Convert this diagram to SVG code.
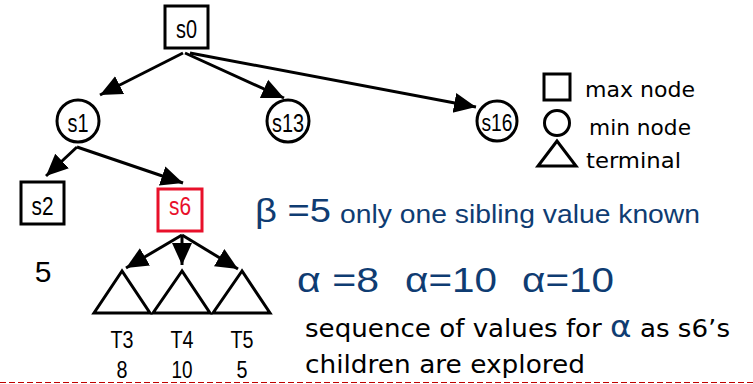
<svg xmlns="http://www.w3.org/2000/svg" width="753" height="384" viewBox="0 0 753 384">
<style>
.box{fill:#fff;stroke:#000;stroke-width:3}
.circ{fill:#fff;stroke:#000;stroke-width:3}
.tri{fill:#fff;stroke:#000;stroke-width:3;stroke-linejoin:miter}
.lbl{font-family:"Liberation Sans",Arial,sans-serif;font-size:25px;fill:#000;text-anchor:middle}
.edge{stroke:#000;stroke-width:3;fill:none;marker-end:url(#ah)}
.leg{font-family:"DejaVu Sans",sans-serif;font-size:22px;fill:#000}
.blue{fill:#0f3c72}
.cm{font-family:"DejaVu Sans",sans-serif;font-size:24px;fill:#000}
.al{font-family:"Liberation Sans",Arial,sans-serif;font-size:35px;fill:#0f3c72}
</style>
<defs>
<marker id="ah" markerUnits="userSpaceOnUse" markerWidth="22" markerHeight="22" viewBox="0 0 22 22" refX="22" refY="11" orient="auto">
<path d="M0,1 L22,11 L0,21 Z" fill="#000"/>
</marker>
</defs>
<rect width="753" height="384" fill="#fff"/>
<g id="connectors">
<line class="edge" x1="183" y1="53" x2="100" y2="95"/>
<line class="edge" x1="185" y1="53" x2="284" y2="98"/>
<line class="edge" x1="190" y1="53" x2="476" y2="107"/>
<line class="edge" x1="77" y1="147" x2="46" y2="176"/>
<line class="edge" x1="77" y1="147" x2="183" y2="183"/>
<line class="edge" x1="182" y1="235" x2="126" y2="268"/>
<line class="edge" x1="182" y1="235" x2="182" y2="265"/>
<line class="edge" x1="182" y1="235" x2="238" y2="269"/>
</g>
<g id="s0"><rect class="box" x="165" y="6" width="43" height="42"/><text class="lbl" x="186.5" y="38" textLength="21" lengthAdjust="spacingAndGlyphs">s0</text></g>
<g id="s1"><circle class="circ" cx="78" cy="121" r="21"/><text class="lbl" x="78" y="132" textLength="21" lengthAdjust="spacingAndGlyphs">s1</text></g>
<g id="s13"><circle class="circ" cx="288" cy="121" r="21"/><text class="lbl" x="288" y="132" textLength="32" lengthAdjust="spacingAndGlyphs">s13</text></g>
<g id="s16"><circle class="circ" cx="497" cy="121" r="20"/><text class="lbl" x="497" y="131" textLength="31" lengthAdjust="spacingAndGlyphs" style="font-size:23px">s16</text></g>
<g id="s2"><rect class="box" x="21" y="182" width="43" height="42"/><text class="lbl" x="42.5" y="215" textLength="22" lengthAdjust="spacingAndGlyphs">s2</text></g>
<g id="s6"><rect x="158" y="189" width="44" height="42" fill="#fff" stroke="#e8102a" stroke-width="3"/><text class="lbl" x="180" y="215" style="fill:#e8102a" textLength="22" lengthAdjust="spacingAndGlyphs">s6</text></g>
<g id="T3"><polygon class="tri" points="122,271 94,313 150,313"/><text class="lbl" x="122" y="348" style="font-size:24px" textLength="23" lengthAdjust="spacingAndGlyphs">T3</text><text class="lbl" x="122" y="378" style="font-size:24px" textLength="11" lengthAdjust="spacingAndGlyphs">8</text></g>
<g id="T4"><polygon class="tri" points="182,271 153,313 210,313"/><text class="lbl" x="182" y="348" style="font-size:24px" textLength="23" lengthAdjust="spacingAndGlyphs">T4</text><text class="lbl" x="182" y="378" style="font-size:24px" textLength="21" lengthAdjust="spacingAndGlyphs">10</text></g>
<g id="T5"><polygon class="tri" points="242,271 213,313 270,313"/><text class="lbl" x="242" y="348" style="font-size:24px" textLength="23" lengthAdjust="spacingAndGlyphs">T5</text><text class="lbl" x="242" y="378" style="font-size:24px" textLength="11" lengthAdjust="spacingAndGlyphs">5</text></g>
<text x="43" y="282" style="font-family:'Liberation Sans',Arial,sans-serif;font-size:30px;text-anchor:middle">5</text>
<g id="legend">
<rect x="544" y="74" width="26" height="26" fill="#fff" stroke="#000" stroke-width="3"/>
<text class="leg" x="585" y="97" textLength="110" lengthAdjust="spacingAndGlyphs">max node</text>
<circle cx="557" cy="123" r="12.5" fill="#fff" stroke="#000" stroke-width="3"/>
<text class="leg" x="589" y="135" textLength="102" lengthAdjust="spacingAndGlyphs">min node</text>
<polygon points="557,141 538,166 576,166" fill="#fff" stroke="#000" stroke-width="3"/>
<text class="leg" x="586" y="168" textLength="95" lengthAdjust="spacingAndGlyphs">terminal</text>
</g>
<text x="255" y="222" class="blue" style="font-family:'Liberation Sans',Arial,sans-serif;font-size:34px" textLength="76" lengthAdjust="spacingAndGlyphs">β =5</text>
<text x="340" y="223" class="blue" style="font-family:'Liberation Sans',Arial,sans-serif;font-size:25px" textLength="360" lengthAdjust="spacingAndGlyphs">only one sibling value known</text>
<text class="al" x="297" y="292" textLength="82" lengthAdjust="spacingAndGlyphs">α =8</text>
<text class="al" x="405" y="292" textLength="92" lengthAdjust="spacingAndGlyphs">α=10</text>
<text class="al" x="522" y="292" textLength="92" lengthAdjust="spacingAndGlyphs">α=10</text>
<text class="cm" x="305" y="337" textLength="425" lengthAdjust="spacingAndGlyphs">sequence of values for <tspan class="blue" style="font-size:30px">α</tspan> as s6’s</text>
<text class="cm" x="305" y="373" textLength="280" lengthAdjust="spacingAndGlyphs">children are explored</text>
<line x1="0" y1="382.5" x2="753" y2="382.5" stroke="#c00000" stroke-width="1" stroke-dasharray="6,3"/>
</svg>
